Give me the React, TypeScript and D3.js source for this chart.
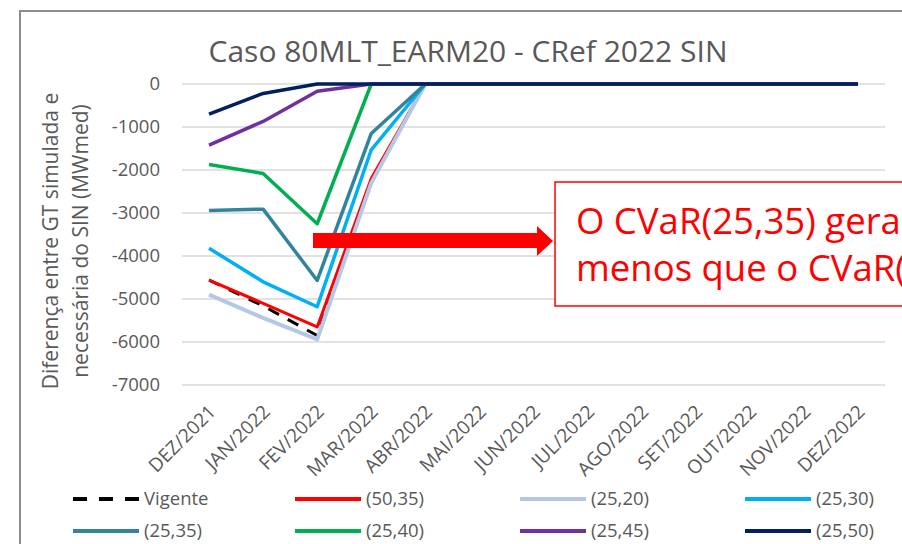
import React from 'react';
import * as d3 from 'd3';

// chart data
const categories = ['DEZ/2021', 'JAN/2022', 'FEV/2022', 'MAR/2022', 'ABR/2022', 'MAI/2022', 'JUN/2022',
  'JUL/2022', 'AGO/2022', 'SET/2022', 'OUT/2022', 'NOV/2022', 'DEZ/2022'];
const yTicks = [0, -1000, -2000, -3000, -4000, -5000, -6000, -7000];

const vigente = [-4560, -5160, -5850, -2250, 0, 0, 0, 0, 0, 0, 0, 0, 0];
const cvar5035 = [-4560, -5100, -5650, -2200, 0, 0, 0, 0, 0, 0, 0, 0, 0];
const cvar2520 = [-4900, -5440, -5940, -2300, 0, 0, 0, 0, 0, 0, 0, 0, 0];
const cvar2530 = [-3820, -4600, -5180, -1530, 0, 0, 0, 0, 0, 0, 0, 0, 0];
const cvar2535 = [-2940, -2910, -4570, -1150, 0, 0, 0, 0, 0, 0, 0, 0, 0];
const cvar2540 = [-1870, -2080, -3250, 0, 0, 0, 0, 0, 0, 0, 0, 0, 0];
const cvar2545 = [-1420, -870, -170, 0, 0, 0, 0, 0, 0, 0, 0, 0, 0];
const cvar2550 = [-700, -220, 0, 0, 0, 0, 0, 0, 0, 0, 0, 0, 0];

const series = [
  { name: 'Vigente', values: vigente, color: '#000000', dash: '12,10', w: 3 },
  { name: '(50,35)', values: cvar5035, color: '#ff0000', dash: null, w: 3 },
  { name: '(25,20)', values: cvar2520, color: '#b4c7e7', dash: null, w: 4 },
  { name: '(25,30)', values: cvar2530, color: '#00b0f0', dash: null, w: 3.5 },
  { name: '(25,35)', values: cvar2535, color: '#31849b', dash: null, w: 3.5 },
  { name: '(25,40)', values: cvar2540, color: '#00b050', dash: null, w: 3.5 },
  { name: '(25,45)', values: cvar2545, color: '#7030a0', dash: null, w: 3.5 },
  { name: '(25,50)', values: cvar2550, color: '#002060', dash: null, w: 3.5 },
];

const font = '"Open Sans", sans-serif';
const txt = '#595959';

const x = d3.scaleBand().domain(categories).range([182, 885]).padding(0);
const xc = (c) => x(c) + x.bandwidth() / 2;
const y = d3.scaleLinear().domain([-7000, 0]).range([385, 84]);

const line = d3.line()
  .x((d, i) => xc(categories[i]))
  .y((d) => y(d));

export default function App() {
  return (
    <svg width={902} height={544} style={{ position: 'absolute', left: 0, top: 0, background: '#fff' }}
      fontFamily={font}>
      <rect x={0} y={0} width={902} height={544} fill="#fff" />
      {/* outer frame, cut on right and bottom */}
      <line x1={20} y1={11} x2={20} y2={544} stroke="#8c8c8c" strokeWidth={2} />
      <line x1={19} y1={11} x2={902} y2={11} stroke="#8c8c8c" strokeWidth={2} />

      <text x={468} y={62} textAnchor="middle" fontSize={30} fill={txt}>Caso 80MLT_EARM20 - CRef 2022 SIN</text>

      {/* grid + y ticks */}
      {yTicks.map(t => (
        <g key={t}>
          <line x1={182} x2={885} y1={y(t)} y2={y(t)} stroke="#d9d9d9" strokeWidth={1.5} />
          <text x={160} y={y(t) + 6} textAnchor="end" fontSize={18.5} fill={txt}>{t}</text>
        </g>
      ))}

      <g transform="translate(58,241) rotate(-90)">
        <text x={0} y={0} textAnchor="middle" fontSize={21} fill={txt}>Diferença entre GT simulada e</text>
        <text x={0} y={30} textAnchor="middle" fontSize={21} fill={txt}>necessária do SIN (MWmed)</text>
      </g>

      {/* x labels */}
      {categories.map(c => (
        <text key={c} transform={`translate(${xc(c) + 8},413) rotate(-45)`} textAnchor="end"
          fontSize={19} fill={txt}>{c}</text>
      ))}

      {/* series */}
      {series.map(s => (
        <path key={s.name} d={line(s.values)} fill="none" stroke={s.color} strokeWidth={s.w}
          strokeDasharray={s.dash || undefined} strokeLinejoin="round" />
      ))}

      {/* annotation */}
      <rect x={313} y={233} width={227} height={15} fill="#ff0000" />
      <polygon points="537,226 553,241 537,256" fill="#ff0000" />
      <rect x={555} y={182} width={400} height={124} fill="#fff" stroke="#ff0000" strokeWidth={1.5} />
      <text x={576} y={234} fontSize={36.5} fill="#ff0000">O CVaR(25,35) gera</text>
      <text x={576} y={281} fontSize={36.5} fill="#ff0000">menos que o CVaR(</text>

      {/* legend */}
      {series.map((s, i) => {
        const col = i % 4;
        const row = Math.floor(i / 4);
        const lx = [73, 295, 520, 745][col];
        const ly = [499, 531][row];
        return (
          <g key={s.name}>
            <line x1={lx} x2={lx + 66} y1={ly} y2={ly} stroke={s.color} strokeWidth={4}
              strokeDasharray={s.dash ? '14,12' : undefined} />
            <text x={lx + 71} y={ly + 6} fontSize={18.5} fill={txt}>{s.name}</text>
          </g>
        );
      })}
    </svg>
  );
}
